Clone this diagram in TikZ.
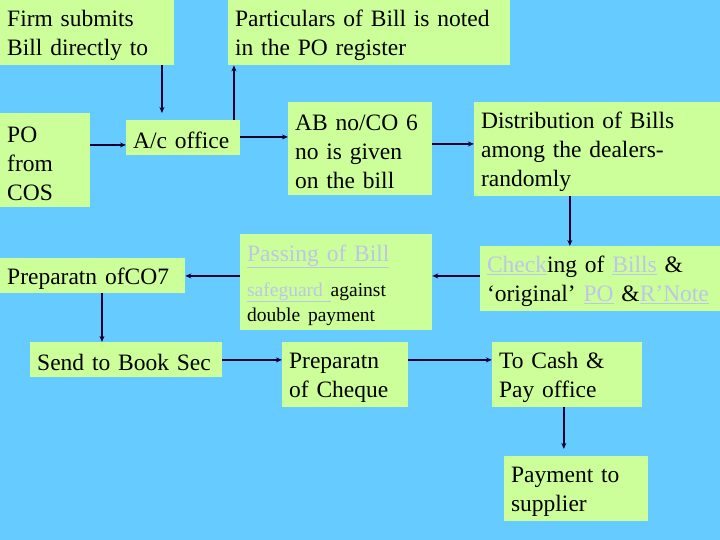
\documentclass[tikz,border=0pt]{standalone}
\usepackage{fontspec}
\setmainfont{Liberation Serif}
\usetikzlibrary{arrows.meta}
\definecolor{slideBlue}{RGB}{102,204,255}
\definecolor{boxGreen}{RGB}{204,255,153}
\definecolor{linkGrey}{RGB}{190,198,232}
\definecolor{arrowNavy}{RGB}{0,0,51}
\newcommand{\lnk}[1]{\textcolor{linkGrey}{\underline{#1}}}

\begin{document}
\begin{tikzpicture}[x=1pt,y=-1pt,
        bx/.style={fill=boxGreen,anchor=north west,inner xsep=7pt,inner ysep=0pt,
                   align=left,font=\fontsize{23.5}{29}\selectfont,
                   execute at begin node={\rule{0pt}{22pt}}},
        ar/.style={draw=arrowNavy,line width=1.4pt,-{Stealth[length=6pt,width=5pt]}}]
  \fill[slideBlue] (0,0) rectangle (720,540);
  % boxes
  \node[bx,text width=160pt,minimum height=65pt] (firm) at (0,0) {Firm submits\\Bill directly to};
  \node[bx,text width=268pt,minimum height=65pt] (partic) at (228,0) {Particulars of Bill is noted\\in the PO register};
  \node[bx,text width=76pt,minimum height=94pt] (po) at (0,113) {PO\\from\\COS};
  \node[bx,text width=100pt,minimum height=35pt] (acoff) at (126,120) {A/c office};
  \node[bx,text width=130pt,minimum height=93pt] (abno) at (288,102) {AB no/CO 6\\no is given\\on the bill};
  \node[bx,text width=232pt,minimum height=94pt] (distr) at (474,102) {Distribution of Bills\\among the dealers-\\randomly};
  \node[bx,text width=171pt,minimum height=35pt] (coseven) at (0,258) {Preparatn ofCO7};
  \node[bx,text width=178pt,minimum height=96pt] (passing) at (240,234)
    {{\lnk{Passing of Bill}\par}\vspace{10pt}%
     {\fontsize{19.5}{25}\selectfont\lnk{safeguard }against\\double payment\par}};
  \node[bx,text width=226pt,minimum height=65pt] (check) at (480,246)
    {\lnk{Check}ing of \lnk{Bills} \&\\‘original’ \lnk{PO} \&\lnk{R’Note}};
  \node[bx,text width=178pt,minimum height=35pt] (booksec) at (30,342) {Send to Book Sec};
  \node[bx,text width=112pt,minimum height=65pt] (cheque) at (282,342) {Preparatn\\of Cheque};
  \node[bx,text width=136pt,minimum height=65pt] (cash) at (492,342) {To Cash \&\\Pay office};
  \node[bx,text width=130pt,minimum height=65pt] (pay) at (504,456) {Payment to\\supplier};
  % connector lines
  \coordinate (xfirm) at (162,0);
  \coordinate (xpart) at (234,0);
  \coordinate (xdistr) at (570,0);
  \coordinate (xco) at (102,0);
  \coordinate (xcash) at (564,0);
  \coordinate (ypo) at (0,145);
  \coordinate (yab) at (0,137);
  \coordinate (ydistr) at (0,144);
  \coordinate (ypass) at (0,276);
  \coordinate (ybook) at (0,360);
  \draw[ar,shorten >=7pt] (firm.south -| xfirm) -- (acoff.north -| xfirm);
  \draw[ar] (po.east |- ypo) -- (acoff.west |- ypo);
  \draw[ar] (acoff.north -| xpart) -- (partic.south -| xpart);
  \draw[ar] (acoff.east |- yab) -- (abno.west |- yab);
  \draw[ar] (abno.east |- ydistr) -- (distr.west |- ydistr);
  \draw[ar] (distr.south -| xdistr) -- (check.north -| xdistr);
  \draw[ar] (check.west |- ypass) -- (passing.east |- ypass);
  \draw[ar] (passing.west |- ypass) -- (coseven.east |- ypass);
  \draw[ar] (coseven.south -| xco) -- (booksec.north -| xco);
  \draw[ar] (booksec.east |- ybook) -- (cheque.west |- ybook);
  \draw[ar] (cheque.east |- ybook) -- (cash.west |- ybook);
  \draw[ar,shorten >=7pt] (cash.south -| xcash) -- (pay.north -| xcash);
\end{tikzpicture}
\end{document}
